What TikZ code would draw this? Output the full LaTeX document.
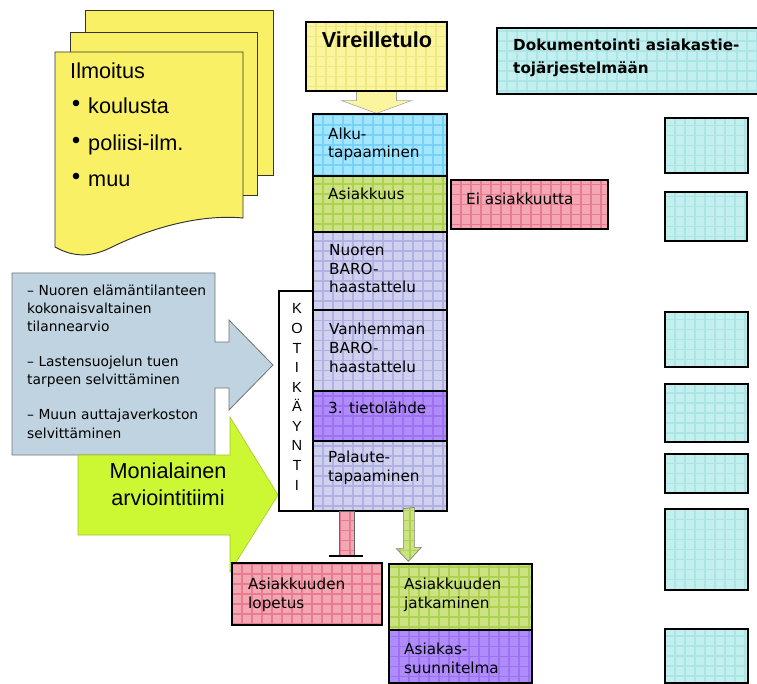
\documentclass[tikz,border=0pt]{standalone}
\usepackage{fontspec}
\setmainfont{Liberation Sans}
\newfontfamily\boxfont{DejaVu Sans}
\usetikzlibrary{fit}
\usetikzlibrary{calc}
\usetikzlibrary{backgrounds}

\definecolor{pagefill}{HTML}{FAF066}
\definecolor{yelfill}{HTML}{FAF59E}
\definecolor{yelgrid}{HTML}{F0E77E}
\definecolor{bluefill}{HTML}{A3E6FF}
\definecolor{bluegrid}{HTML}{78D2F7}
\definecolor{grnfill}{HTML}{CDE283}
\definecolor{grngrid}{HTML}{ADD24F}
\definecolor{pinkfill}{HTML}{F3A7B3}
\definecolor{pinkgrid}{HTML}{E87B92}
\definecolor{lavfill}{HTML}{D0D1EF}
\definecolor{lavgrid}{HTML}{B0B1E2}
\definecolor{purfill}{HTML}{B08CFA}
\definecolor{purgrid}{HTML}{9D72F2}
\definecolor{cyanfill}{HTML}{C3EFEF}
\definecolor{cyangrid}{HTML}{ABE5E5}
\definecolor{greyfill}{HTML}{C0D3E0}
\definecolor{limefill}{HTML}{CCF733}

\tikzset{
  cell/.style={draw=black, line width=1.1pt, inner sep=0pt},
  gridfill/.style 2 args={fill=#1, path picture={\draw[#2, line width=0.9pt, step=0.3cm] (path picture bounding box.south west) grid (path picture bounding box.north east);}},
  page/.style={fill=pagefill, draw=black!80, line width=0.8pt},
  boxtxt/.style={font=\boxfont\fontsize{13}{16.2}\selectfont, anchor=base west, inner sep=0pt, align=left},
  listtxt/.style={font=\fontsize{18.5}{22}\selectfont, anchor=base west, inner sep=0pt},
}

\begin{document}
\begin{tikzpicture}[x=0.03cm, y=-0.03cm]
  \useasboundingbox (0,0) rectangle (757,684);

  % ilmoitus pages
  \filldraw[page] (85,10) rectangle (273,175);
  \filldraw[page] (70,32) rectangle (257,195);
  \filldraw[page] (55,52) -- (243,52) -- (243,218) .. controls (200,214) and (150,228) .. (110,248) .. controls (85,260) and (68,254) .. (55,247) -- cycle;
  \node[listtxt] (ilmo) at (70,79) {Ilmoitus};
  \node[listtxt] (koulu) at (88,114) {koulusta};
  \node[listtxt] (poliisi) at (88,151) {poliisi-ilm.};
  \node[listtxt] (muu) at (88,187) {muu};
  \fill (76,103) circle[radius=2.8pt];
  \fill (76,140) circle[radius=2.8pt];
  \fill (76,176) circle[radius=2.8pt];

  % arviointi callout
  \filldraw[fill=greyfill, draw=black!55, line width=0.7pt] (12,273) -- (215,273) -- (215,342) -- (229,342) -- (229,320) -- (273,365) -- (229,410) -- (229,388) -- (215,388) -- (215,455) -- (12,455) -- cycle;
  \node[font=\boxfont\fontsize{11.8}{15.4}\selectfont, anchor=base west, inner sep=0pt, align=left] (arvio) at (27,438) {– Nuoren elämäntilanteen\\kokonaisvaltainen\\tilannearvio\\[14.5pt]– Lastensuojelun tuen\\tarpeen selvittäminen\\[14.5pt]– Muun auttajaverkoston\\selvittäminen};

  % tiimi arrow
  \filldraw[fill=limefill, draw=limefill!80!black, line width=0.5pt] (78,455) -- (230,455) -- (230,417) -- (278,495) -- (230,572) -- (230,535) -- (78,535) -- cycle;
  \node[font=\fontsize{18.5}{23}\selectfont, align=center, inner sep=0pt] (tiimi) at (168,484) {Monialainen\\arviointitiimi};

  % main column
  \node[cell, gridfill={yelfill}{yelgrid}, fit={(306,22) (447,91)}] (vire) {};
  \node[font=\bfseries\fontsize{18.5}{22}\selectfont, anchor=base, inner sep=0pt] (viretxt) at (377,48) {Vireilletulo};
  \node[cell, gridfill={bluefill}{bluegrid}, fit={(313,114) (447,176)}] (alku) {};
  \node[boxtxt] (alkutxt) at (328,158) {Alku-\\tapaaminen};
  \node[cell, gridfill={grnfill}{grngrid}, fit={(313,176) (447,232)}] (asiak) {};
  \node[boxtxt] (asiaktxt) at (328,200) {Asiakkuus};
  \node[cell, gridfill={lavfill}{lavgrid}, fit={(313,232) (447,310)}] (nuoren) {};
  \node[boxtxt] (nuorentxt) at (329,293) {Nuoren\\BARO-\\haastattelu};
  \node[cell, gridfill={lavfill}{lavgrid}, fit={(313,310) (447,391)}] (vanh) {};
  \node[boxtxt] (vanhtxt) at (329,372) {Vanhemman\\BARO-\\haastattelu};
  \node[cell, gridfill={purfill}{purgrid}, fit={(313,391) (447,441)}] (tieto) {};
  \node[boxtxt] (tietotxt) at (328,413) {3. tietolähde};
  \node[cell, gridfill={lavfill}{lavgrid}, fit={(313,441) (447,511)}] (pal) {};
  \node[boxtxt] (paltxt) at (328,481) {Palaute-\\tapaaminen};
  \node[cell, fill=white, fit={(279,291) (313,511)}] (koti) {};
  \node[font=\fontsize{12.5}{16.7}\selectfont, align=center, inner sep=0pt] (kotitxt) at (297,397) {K\\O\\T\\I\\K\\Ä\\Y\\N\\T\\I};

  \node[cell, gridfill={pinkfill}{pinkgrid}, fit={(451,180) (608,229)}] (ei) {};
  \node[boxtxt] (eitxt) at (466,205) {Ei asiakkuutta};

  \node[cell, gridfill={pinkfill}{pinkgrid}, fit={(232,563) (382,625)}] (lop) {};
  \node[boxtxt] (loptxt) at (248,608) {Asiakkuuden\\lopetus};
  \node[cell, gridfill={grnfill}{grngrid}, fit={(389,564) (532,630)}] (jat) {};
  \node[boxtxt] (jattxt) at (404,608) {Asiakkuuden\\jatkaminen};
  \node[cell, gridfill={purfill}{purgrid}, fit={(389,630) (532,683)}] (suun) {};
  \node[boxtxt] (suuntxt) at (404,673) {Asiakas-\\suunnitelma};

  % arrows between the boxes
  \begin{scope}[on background layer]
    \filldraw[fill=yelfill, draw=black!35, line width=0.5pt] ([shift={(-20,-3)}]vire.south) -- ++(0,12) -- ++(-15,0) -- (vire.south |- alku.north) -- ([shift={(35,9)}]vire.south) -- ++(-15,0) -- ++(0,-12) -- cycle;
  \end{scope}
  \draw[gridfill={pinkfill}{pinkgrid}, draw=black!60, line width=0.6pt] ($(pal.south west)+(27,0)$) rectangle ($(lop.north west)+(123,-6)$);
  \draw[line width=1.6pt] ($(lop.north west)+(98,-6)$) -- ++(34,0);
  \filldraw[gridfill={grnfill}{grngrid}, draw=black!50, line width=0.6pt] ($(pal.south west)+(91,-3)$) -- ++(0,40) -- ++(-7,0) -- ($(jat.north west)+(20,-2)$) -- ++(13,-14) -- ++(-7,0) -- ++(0,-40) -- cycle;

  % dokumentointi
  \node[cell, gridfill={cyanfill}{cyangrid}, fit={(497,28) (757.5,94)}] (dok) {};
  \node[font=\boxfont\bfseries\fontsize{13}{20}\selectfont, anchor=base west, inner sep=0pt, align=left] (doktxt) at (513,74) {Dokumentointi asiakastie-\\tojärjestelmään};
  \node[cell, gridfill={cyanfill}{cyangrid}, fit={(665,118) (748,173)}] (kirjaus1) {};
  \node[cell, gridfill={cyanfill}{cyangrid}, fit={(665,192) (747,241)}] (kirjaus2) {};
  \node[cell, gridfill={cyanfill}{cyangrid}, fit={(665,312) (748,367)}] (kirjaus3) {};
  \node[cell, gridfill={cyanfill}{cyangrid}, fit={(665,384) (748,442)}] (kirjaus4) {};
  \node[cell, gridfill={cyanfill}{cyangrid}, fit={(665,454) (748,493)}] (kirjaus5) {};
  \node[cell, gridfill={cyanfill}{cyangrid}, fit={(665,509) (748,590)}] (kirjaus6) {};
  \node[cell, gridfill={cyanfill}{cyangrid}, fit={(665,629) (748,683)}] (kirjaus7) {};
\end{tikzpicture}
\end{document}
